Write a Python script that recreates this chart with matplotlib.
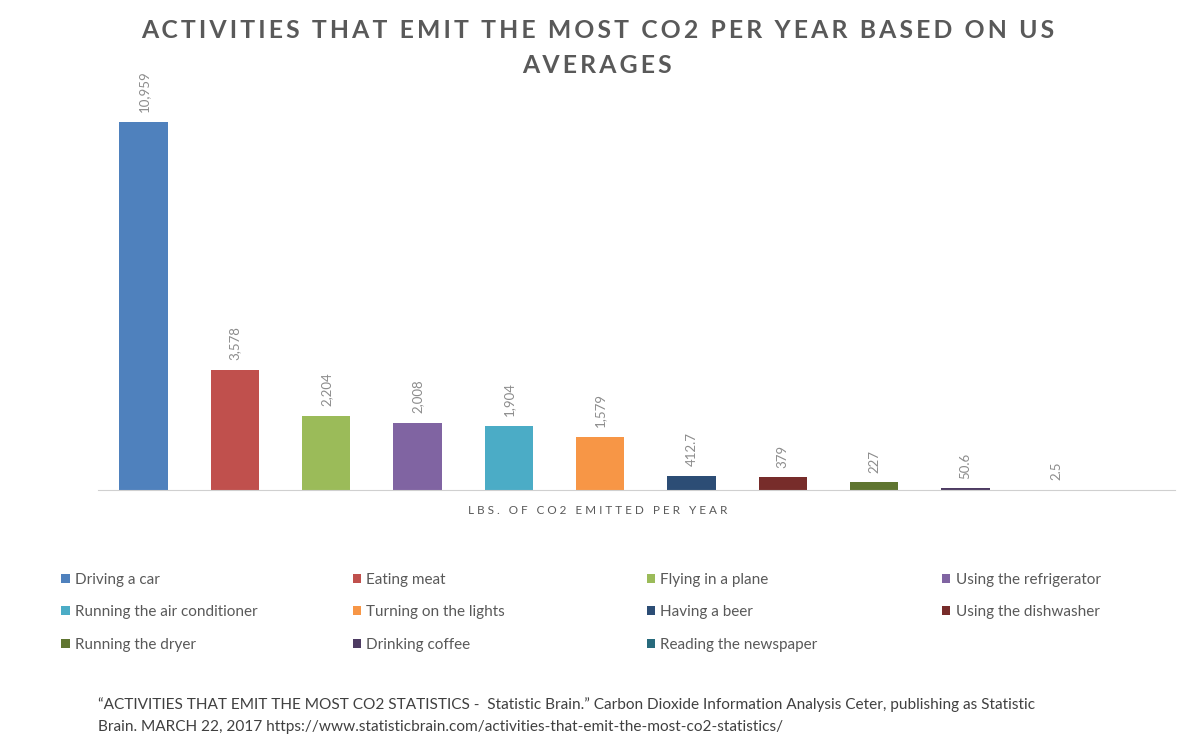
import matplotlib
matplotlib.use('Agg')
import matplotlib.pyplot as plt
import numpy as np

activities = ["Driving a car", "Eating meat", "Flying in a plane", "Using the refrigerator",
              "Running the air conditioner", "Turning on the lights", "Having a beer",
              "Using the dishwasher", "Running the dryer", "Drinking coffee",
              "Reading the newspaper"]
lbs_co2 = [10959, 3578, 2204, 2008, 1904, 1579, 412.7, 379, 227, 50.6, 2.5]
value_labels = ["10,959", "3,578", "2,204", "2,008", "1,904", "1,579", "412.7",
                "379", "227", "50.6", "2.5"]
colors = ['#4F81BD', '#C0504D', '#9BBB59', '#8064A2', '#4BACC6', '#F79646',
          '#2C4D75', '#772C2A', '#5F7530', '#4D3B62', '#276A7C']

plt.rcParams['font.family'] = ['Lato', 'DejaVu Sans']
gray = '#595959'


def spaced(s):
    # fake letter spacing with thin spaces
    return '\u2009'.join(s)


fig = plt.figure(figsize=(11.9, 7.35), dpi=100)
ax = fig.add_axes([0.082, 0.3333, 0.905, 0.5483])

x = np.arange(len(activities))
bars = ax.bar(x, lbs_co2, width=0.53, color=colors, label=activities)
ax.set_xlim(-0.504, 11.29)
ax.set_ylim(0, 12000)

# value labels above each bar, rotated like the original
for b, lab in zip(bars, value_labels):
    ax.annotate(lab, (b.get_x() + b.get_width() / 2, b.get_height()),
                xytext=(0, 7), textcoords='offset points', rotation=90,
                ha='center', va='bottom', fontsize=9.5, color='#8c8c8c')

for s in ['top', 'right', 'left']:
    ax.spines[s].set_visible(False)
ax.spines['bottom'].set_color('#d0d0d0')
ax.set_xticks([])
ax.set_yticks([])

fig.text(0.502, 0.958, spaced("ACTIVITIES THAT EMIT THE MOST CO2 PER YEAR BASED ON US"),
         ha='center', va='center', fontsize=17.8, fontweight='bold', color=gray)
fig.text(0.502, 0.911, spaced("AVERAGES"), ha='center', va='center', fontsize=17.8,
         fontweight='bold', color=gray)
fig.text(0.502, 0.306, "L B S .   O F   C O 2   E M I T T E D   P E R   Y E A R",
         ha='center', va='center', fontsize=8.5, color=gray)

# legend laid out row by row, 4 evenly spaced columns
col_x = [0.045, 0.290, 0.537, 0.785]
for c in range(4):
    idx = list(range(c, len(activities), 4))
    leg = fig.legend(handles=[bars[i] for i in idx], labels=[activities[i] for i in idx],
                     loc='upper left', bbox_to_anchor=(col_x[c], 0.231), frameon=False,
                     fontsize=11, handlelength=0.55, handleheight=0.55,
                     handletextpad=0.35, labelspacing=1.2, labelcolor=gray,
                     borderpad=0)

fig.text(0.082, 0.041, "\u201cACTIVITIES THAT EMIT THE MOST CO2 STATISTICS -  Statistic Brain.\u201d "
         "Carbon Dioxide Information Analysis Ceter, publishing as Statistic",
         ha='left', va='center', fontsize=11.1, color='#404040')
fig.text(0.082, 0.011, "Brain. MARCH 22, 2017 https://www.statisticbrain.com/activities-that-emit-the-most-co2-statistics/",
         ha='left', va='center', fontsize=11.1, color='#404040')

fig.savefig('out.png', dpi=100)
plt.close()
